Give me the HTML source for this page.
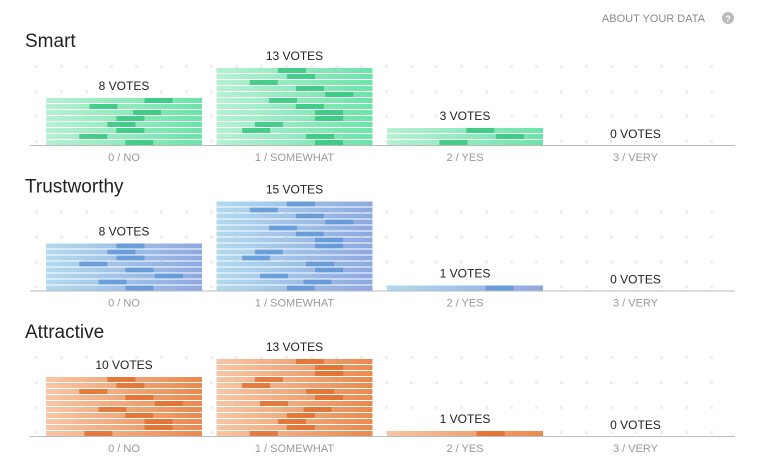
<!DOCTYPE html>
<html><head><meta charset="utf-8"><style>
body{margin:0;background:#fff;font-family:"Liberation Sans",sans-serif;}
svg text{font-family:"Liberation Sans",sans-serif;}
</style></head><body>
<svg id="c" width="774" height="467"></svg>
<script>
const categories=["0 / NO","1 / SOMEWHAT","2 / YES","3 / VERY"];
const traits=["Smart","Trustworthy","Attractive"];
const smartVotes=[8,13,3,0];
const trustVotes=[8,15,1,0];
const attractVotes=[10,13,1,0];
const allVotes=[smartVotes,trustVotes,attractVotes];
const palettes=[["#b6f1d2","#6be4a8","#2ec57a"],["#b2daee","#8ea8e0","#5d95d6"],["#f7c6a6","#e9894f","#e06d2a"]];
const NS="http://www.w3.org/2000/svg";
const svg=document.getElementById('c');
function mk(t,a,p){const e=document.createElementNS(NS,t);for(const k in a)e.setAttribute(k,a[k]);(p||svg).appendChild(e);return e;}
const defs=mk('defs',{});
palettes.forEach((p,i)=>{const g=mk('linearGradient',{id:'g'+i,x1:0,x2:1,y1:0,y2:0},defs);mk('stop',{offset:0,'stop-color':p[0]},g);mk('stop',{offset:1,'stop-color':p[1]},g);});
const t=mk('text',{x:705,y:22,'font-size':11,fill:'#8a8a8a','text-anchor':'end'});t.textContent="ABOUT YOUR DATA";


const hc=mk('circle',{cx:728,cy:18,r:6,fill:'#bbb'});
const hq=mk('text',{x:728,y:22,'font-size':9,fill:'#fff','text-anchor':'middle','font-weight':'bold'});hq.textContent="?";
const colX=i=>46+i*170.5;const colW=156;const pitch=6;const stripeH=5;
const yScale=(base,v)=>base-v*pitch;
const hlPos=[0.62,0.77,0.34,0.26,0.77,0.77,0.55,0.62,0.7,0.48,0.41,0.2,0.55,0.85,0.3,0.68];
traits.forEach((name,s)=>{
  const base=145+s*145.5;
  const g=mk('g',{});
  
  
  for(let r=0;r<4;r++)for(let c=0;c<28;c++){mk('rect',{x:35+c*25,y:base-80+r*25,width:3,height:3,fill:'#eeeeee'},g);}
  const tt=mk('text',{x:25,y:base-98,'font-size':19,fill:'#222','font-weight':'500'},g);tt.textContent=name;
  
  
  allVotes[s].forEach((v,i)=>{
    const x=colX(i);
    for(let k=0;k<v;k++){
      const y=yScale(base,k+1)+1;
      const st=mk('rect',{x:x,y:y,width:colW,height:stripeH,fill:'url(#g'+s+')'},g);
      
      
      const hp=hlPos[(k*3+i*5+s*7)%hlPos.length];
      mk('rect',{x:x+hp*(colW-28),y:y,width:28,height:stripeH,fill:palettes[s][2],opacity:0.8},g);
    }
    const lbl=mk('text',{x:x+colW/2,y:yScale(base,v)-7,'font-size':12,fill:'#222','text-anchor':'middle'},g);
    lbl.textContent=v+" VOTES";
    
    
    const cl=mk('text',{x:x+colW/2,y:base+16,'font-size':11,fill:'#999','text-anchor':'middle'},g);
    cl.textContent=categories[i];
    
    
  });
  const ax=mk('line',{x1:30,x2:735,y1:base+0.5,y2:base+0.5,stroke:'#bbb','stroke-width':1},g);
  
  
});
</script>
</body></html>
